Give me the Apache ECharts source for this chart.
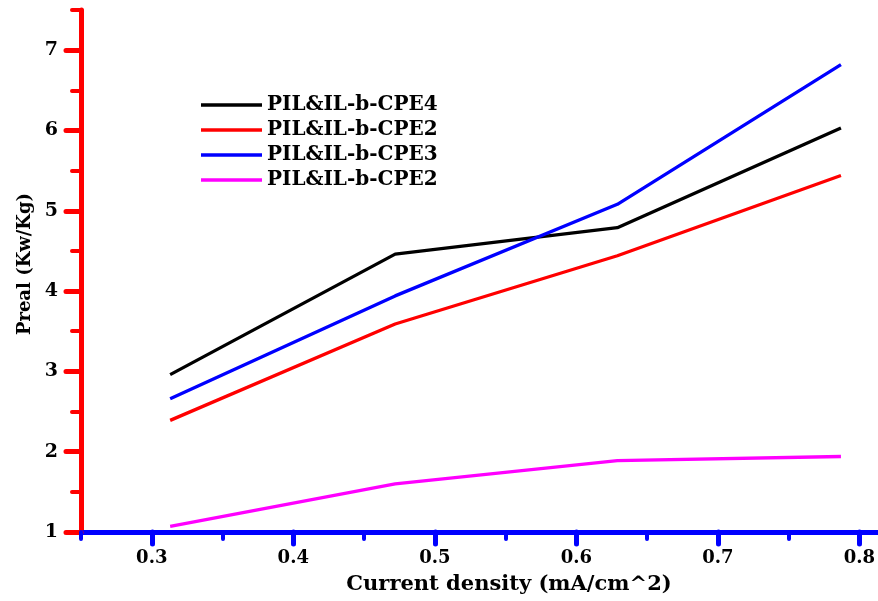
<!DOCTYPE html>
<html>
<head>
<meta charset="utf-8">
<script src="https://cdn.jsdelivr.net/npm/echarts@6/dist/echarts.min.js"></script>
<style>
  html, body { margin: 0; padding: 0; background: #fff; }
  #chart { width: 878px; height: 601px; }
</style>
</head>
<body>
<div id="chart"></div>
<script>
// Current density (mA/cm^2) at which each cell was measured
const currentDensity = [0.313, 0.472, 0.629, 0.787];

// Real power (Kw/Kg) for each electrolyte
const seriesKeys = ['cpe4', 'cpe2a', 'cpe3', 'cpe2b'];
const seriesLabels = ['PIL&IL-b-CPE4', 'PIL&IL-b-CPE2', 'PIL&IL-b-CPE3', 'PIL&IL-b-CPE2'];
const seriesColors = ['#000000', '#ff0000', '#0000ff', '#ff00ff'];
const cpe4 = [2.96, 4.46, 4.79, 6.03];
const cpe2a = [2.39, 3.59, 4.44, 5.44];
const cpe3 = [2.66, 3.94, 5.08, 6.82];
const cpe2b = [1.07, 1.60, 1.89, 1.94];
const seriesValues = [cpe4, cpe2a, cpe3, cpe2b];

// Axis ticks
const xMajorTicks = [0.3, 0.4, 0.5, 0.6, 0.7, 0.8];
const xMinorTicks = [0.25, 0.35, 0.45, 0.55, 0.65, 0.75];
const yMajorTicks = [1, 2, 3, 4, 5, 6, 7];
const yMinorTicks = [1.5, 2.5, 3.5, 4.5, 5.5, 6.5, 7.5];

const FONT = '"DejaVu Serif", "Liberation Serif", serif';
const X_MIN = 0.25, X_MAX = 0.8125, Y_MIN = 1, Y_MAX = 7.5;

const chart = echarts.init(document.getElementById('chart'), null, { renderer: 'canvas' });

const labelOf = {};
seriesKeys.forEach((k, i) => { labelOf[k] = seriesLabels[i]; });

const option = {
  backgroundColor: '#ffffff',
  animation: false,
  grid: { left: 81, right: 0, top: 10, bottom: 69, containLabel: false },
  legend: {
    show: true,
    orient: 'vertical',
    left: 196,
    top: 90,
    padding: 5,
    icon: 'rect',
    itemWidth: 61,
    itemHeight: 3.5,
    itemGap: 5,
    data: seriesKeys.map((k) => ({ name: k })),
    formatter: (name) => labelOf[name],
    textStyle: { fontFamily: FONT, fontWeight: 'bold', fontSize: 20, lineHeight: 20, color: '#000' }
  },
  xAxis: [
    {
      type: 'value',
      min: X_MIN, max: X_MAX,
      position: 'bottom',
      name: 'Current density (mA/cm^2)',
      nameLocation: 'middle',
      nameGap: 42,
      nameTextStyle: { fontFamily: FONT, fontWeight: 'bold', fontSize: 21, color: '#000', padding: [0, 0, 0, 60] },
      axisLine: { show: true, lineStyle: { color: '#0000ff', width: 5, cap: 'round' } },
      axisTick: { show: true, customValues: xMajorTicks, length: 12, lineStyle: { color: '#0000ff', width: 5, cap: 'round' } },
      axisLabel: {
        show: true, customValues: xMajorTicks, margin: 17,
        fontFamily: FONT, fontWeight: 'bold', fontSize: 18, color: '#000',
        formatter: (v) => v.toFixed(1)
      },
      splitLine: { show: false }
    },
    {
      type: 'value',
      min: X_MIN, max: X_MAX,
      position: 'bottom',
      axisLine: { show: false },
      axisTick: { show: true, customValues: xMinorTicks, length: 7, lineStyle: { color: '#0000ff', width: 4, cap: 'round' } },
      axisLabel: { show: false },
      splitLine: { show: false }
    }
  ],
  yAxis: [
    {
      type: 'value',
      min: Y_MIN, max: Y_MAX,
      position: 'left',
      name: 'Preal (Kw/Kg)',
      nameLocation: 'middle',
      nameGap: 42,
      nameTextStyle: { fontFamily: FONT, fontWeight: 'bold', fontSize: 18, color: '#000', padding: [0, 0, 0, 14] },
      axisLine: { show: true, lineStyle: { color: '#ff0000', width: 5, cap: 'round' } },
      axisTick: { show: true, customValues: yMajorTicks, length: 15, lineStyle: { color: '#ff0000', width: 5, cap: 'round' } },
      axisLabel: {
        show: true, customValues: yMajorTicks, margin: 23,
        fontFamily: FONT, fontWeight: 'bold', fontSize: 19, color: '#000'
      },
      splitLine: { show: false }
    },
    {
      type: 'value',
      min: Y_MIN, max: Y_MAX,
      position: 'left',
      axisLine: { show: false },
      axisTick: { show: true, customValues: yMinorTicks, length: 9, lineStyle: { color: '#ff0000', width: 4, cap: 'round' } },
      axisLabel: { show: false },
      splitLine: { show: false }
    }
  ],
  series: seriesKeys.map((key, i) => ({
    name: key,
    type: 'line',
    xAxisIndex: 0,
    yAxisIndex: 0,
    showSymbol: false,
    symbol: 'none',
    itemStyle: { color: seriesColors[i] },
    lineStyle: { color: seriesColors[i], width: 3.3 },
    data: currentDensity.map((x, j) => [x, seriesValues[i][j]])
  }))
};

chart.setOption(option);
</script>
</body>
</html>
